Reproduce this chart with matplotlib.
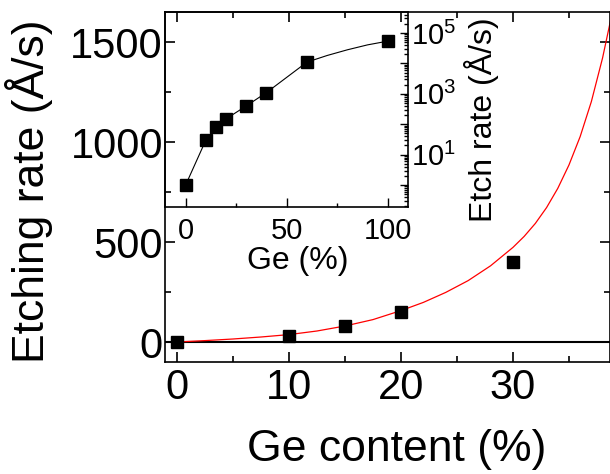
import matplotlib

matplotlib.use("Agg")
import matplotlib.pyplot as plt
from matplotlib.ticker import FuncFormatter, LogLocator, MultipleLocator, NullFormatter
import math

plt.rcParams["font.family"] = ["Liberation Sans", "DejaVu Sans"]
plt.rcParams["mathtext.fontset"] = "custom"
plt.rcParams["mathtext.rm"] = "Liberation Sans"
plt.rcParams["mathtext.it"] = "Liberation Sans:italic"
plt.rcParams["mathtext.bf"] = "Liberation Sans:bold"

# measured etching rate of SiGe vs Ge content (main panel)
ge_content = [0, 10, 15, 20, 30]
etch_rate = [0, 30, 80, 150, 400]

# exponential fit, sampled along the composition axis
fit_ge = [0, 2.5, 5, 7.5, 10, 12.5, 15, 17.5, 20, 22, 24, 26, 28, 30,
          31, 32, 33, 34, 35, 36, 37, 38, 38.8]
fit_rate = [0, 7, 15, 25, 37, 55, 80, 112, 157, 198, 248, 307, 381, 473,
            528, 593, 672, 768, 885, 1027, 1202, 1420, 1630]

# inset: full composition range on a log scale
inset_ge = [0, 10, 15, 20, 30, 40, 60, 100]
inset_rate = [1, 30, 80, 150, 400, 1100, 11000, 54000]
inset_curve_ge = [0, 10, 15, 20, 30, 40, 60, 70, 80, 90, 100]
inset_curve_rate = [1, 30, 80, 150, 400, 1100, 11000, 18200, 28000, 40700, 54000]

W, H = 610, 474
fig = plt.figure(figsize=(W / 100, H / 100), dpi=100)

# main axes
ax = fig.add_axes([165 / W, 112 / H, 444.5 / W, 350 / H])
ax.axhline(0, color="black", lw=1.5, zorder=1)
ax.plot(fit_ge, fit_rate, color="#ff0000", lw=0.9, zorder=2)
ax.plot(ge_content, etch_rate, "s", color="black", ms=8.6, zorder=3)
ax.set_xlim(-1.07, 38.62)
ax.set_ylim(-100, 1650)
ax.xaxis.set_major_locator(MultipleLocator(10))
ax.xaxis.set_minor_locator(MultipleLocator(5))
ax.yaxis.set_major_locator(MultipleLocator(500))
ax.yaxis.set_minor_locator(MultipleLocator(250))
ax.tick_params(which="both", direction="in", top=True, right=True, width=1.2, labelsize=30)
ax.tick_params(which="major", length=7.5)
ax.tick_params(which="minor", length=4)
ax.tick_params(axis="y", pad=1.5)
ax.tick_params(axis="x", pad=4)
for spine in ax.spines.values():
    spine.set_linewidth(1.2)
ax.set_xlabel("Ge content (%)", fontsize=32)
ax.xaxis.set_label_coords(0.522, -0.19)
ax.set_ylabel("Etching rate (Å/s)", fontsize=32)
ax.yaxis.set_label_coords(-0.252, 0.489)

# inset axes, transparent so the main ticks stay visible
ins = fig.add_axes([165 / W, 267 / H, 243 / W, 195 / H])
ins.set_facecolor("none")
ins.set_yscale("log")
ins.plot(inset_curve_ge, inset_curve_rate, color="black", lw=0.8)
ins.plot(inset_ge, inset_rate, "s", color="black", ms=8)
ins.set_xlim(-10.2, 110)
ins.set_ylim(0.19, 4.9e5)
ins.xaxis.set_major_locator(MultipleLocator(50))
ins.xaxis.set_minor_locator(MultipleLocator(25))
ins.yaxis.set_major_locator(LogLocator(base=10, numticks=20))
ins.yaxis.set_minor_locator(LogLocator(base=10, subs=[2, 3, 4, 5, 6, 7, 8, 9], numticks=20))


def odd_decades(value, pos):
    exp = round(math.log10(value))
    return f"$10^{{{exp}}}$" if exp > 0 and exp % 2 == 1 else ""


ins.yaxis.set_major_formatter(FuncFormatter(odd_decades))
ins.yaxis.set_minor_formatter(NullFormatter())
ins.tick_params(which="both", direction="in", top=False, left=False, labelleft=False,
                right=True, labelright=True, width=1.0, labelsize=21)
ins.tick_params(axis="x", which="major", length=6.5, pad=7)
ins.tick_params(axis="x", which="minor", length=3.2)
ins.tick_params(axis="y", which="major", length=5.5, pad=2)
ins.tick_params(axis="y", which="minor", length=3)
for spine in ins.spines.values():
    spine.set_linewidth(1.2)
ins.set_xlabel("Ge (%)", fontsize=23)
ins.xaxis.set_label_coords(0.547, -0.2)
ins.yaxis.set_label_position("right")
ins.set_ylabel("Etch rate (Å/s)", fontsize=23)
ins.yaxis.set_label_coords(1.23, 0.446)

fig.savefig("out.png", dpi=100)
